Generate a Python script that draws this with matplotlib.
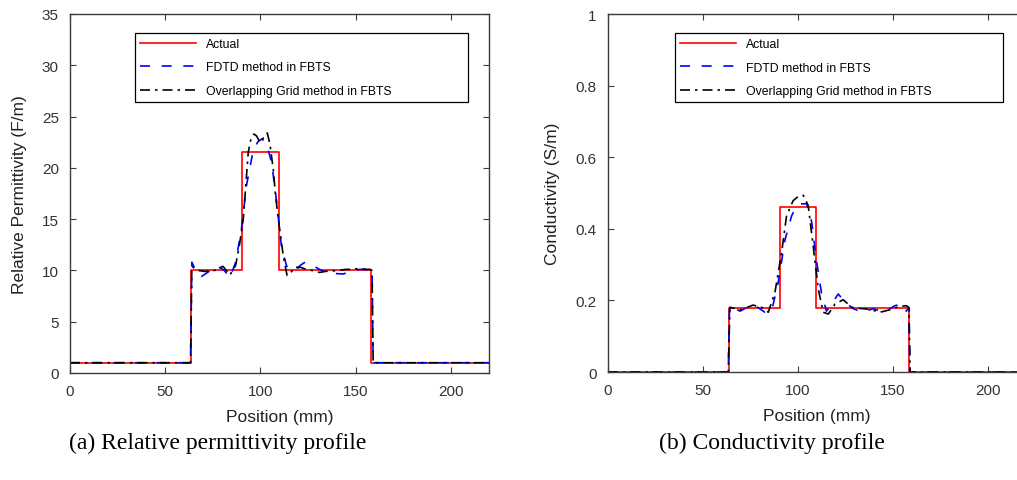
import matplotlib.pyplot as plt

plt.rcParams['font.family'] = ['Liberation Sans', 'DejaVu Sans']

# actual step profiles (position in mm)
actual_x = [0, 63.5, 63.5, 90.3, 90.3, 109.5, 109.5, 158.3, 158.3, 220]
actual_eps = [1, 1, 10, 10, 21.5, 21.5, 10, 10, 1, 1]
actual_sig = [0, 0, 0.18, 0.18, 0.46, 0.46, 0.18, 0.18, 0, 0]

# FDTD method in FBTS - permittivity
fdtd_eps_x = [0, 63.3, 64.0, 66, 69, 73, 77, 81, 84, 87, 90, 92.7, 96, 98.5, 100.6, 102.4,
              104, 105.9, 108.5, 111, 113.7, 116, 119, 121, 123.4, 127.8, 131, 134.7, 139,
              143.3, 148, 152, 155, 157.5, 158.6, 159.2, 220]
fdtd_eps = [1, 1, 10.8, 10.0, 9.4, 9.9, 10.45, 10.0, 9.3, 10.8, 14.0, 18.3, 21.5, 22.5, 22.8, 22.6,
            21.8, 20.5, 16.7, 12.4, 10.45, 10.0, 10.1, 10.5, 10.8, 10.45, 10.1, 9.8, 9.7,
            9.65, 9.9, 10.1, 10.1, 9.95, 10.0, 1, 1]

# Overlapping Grid method in FBTS - permittivity
ovl_eps_x = [0, 63.3, 64.0, 67, 71, 76, 80.3, 84, 87, 89, 91, 93.6, 95, 96.6, 98, 99.7, 101.5,
             103.6, 105, 106.7, 108, 109.4, 112, 114, 116, 118, 121, 124.2, 127, 131, 134,
             138, 141, 145, 148, 152, 155, 157.5, 158.6, 159.2, 220]
ovl_eps = [1, 1, 10.4, 10.0, 9.9, 10.0, 10.4, 9.55, 10.5, 12.5, 15.0, 21.5, 22.8, 23.3, 23.1, 22.5, 22.9,
           23.4, 22.3, 19.9, 17.2, 15.0, 11.4, 9.5, 9.8, 10.3, 10.3, 10.1, 10.0, 9.8, 9.9,
           9.95, 10.0, 10.1, 10.1, 10.2, 10.1, 10.1, 10.0, 1, 1]

# FDTD method in FBTS - conductivity
fdtd_sig_x = [0, 63.3, 64.0, 66, 69.5, 73, 76.3, 79, 82.6, 86.1, 89.6, 93.2, 96.7, 99, 101.1,
              104.6, 107.2, 109.8, 112.4, 115, 117.7, 121.2, 124.7, 129, 134.3, 139.5,
              145.6, 150.9, 154.4, 157, 158.4, 159.0, 220]
fdtd_sig = [0, 0, 0.185, 0.18, 0.17, 0.18, 0.187, 0.18, 0.167, 0.17, 0.25, 0.37, 0.437, 0.46, 0.47,
            0.47, 0.42, 0.31, 0.22, 0.17, 0.19, 0.218, 0.196, 0.177, 0.167, 0.177,
            0.167, 0.185, 0.19, 0.17, 0.18, 0, 0]

# Overlapping Grid method in FBTS - conductivity
ovl_sig_x = [0, 63.3, 64.2, 66.5, 69.5, 73, 76.3, 80.9, 84.4, 87.9, 91.4, 94, 97.5, 100, 102.8,
             105.4, 108, 110.7, 113.3, 116, 119.5, 123.8, 128.3, 132, 136.2, 140, 143.2,
             148.4, 153.7, 157.2, 158.4, 159.0, 220]
ovl_sig = [0, 0, 0.181, 0.178, 0.174, 0.18, 0.187, 0.181, 0.167, 0.223, 0.334, 0.437, 0.479, 0.49, 0.494,
           0.465, 0.353, 0.232, 0.167, 0.162, 0.19, 0.202, 0.181, 0.178, 0.176, 0.172, 0.167,
           0.174, 0.184, 0.185, 0.18, 0, 0]

legend_labels = ['Actual', 'FDTD method in FBTS', 'Overlapping Grid method in FBTS']

fig = plt.figure(figsize=(10.17, 4.81), dpi=100)
ax1 = fig.add_axes([0.0688, 0.2225, 0.412, 0.7464])
ax2 = fig.add_axes([0.5978, 0.2245, 0.411, 0.744])


def style_axes(ax):
    for sp in ax.spines.values():
        sp.set_color('#3c3c3c')
        sp.set_linewidth(1.0)
    ax.tick_params(direction='in', top=True, right=True, length=4, width=0.8,
                   colors='#3c3c3c', labelsize=11, labelcolor='#333333', pad=8)
    ax.set_xlim(0, 220)
    ax.set_xticks([0, 50, 100, 150, 200])
    ax.set_xlabel('Position (mm)', fontsize=12.5, color='#222222', labelpad=8)


def draw(ax, eps_like, fdtd_x, fdtd_y, ovl_x, ovl_y):
    ax.plot(actual_x, eps_like, color='#ff0000', lw=1.2, label=legend_labels[0])
    ax.plot(fdtd_x, fdtd_y, color='#0000ff', lw=1.2, dashes=(6, 7), label=legend_labels[1])
    ax.plot(ovl_x, ovl_y, color='black', lw=1.2, dashes=(6, 3, 1.5, 3), label=legend_labels[2])


draw(ax1, actual_eps, fdtd_eps_x, fdtd_eps, ovl_eps_x, ovl_eps)
style_axes(ax1)
ax1.set_ylim(0, 35)
ax1.set_yticks(range(0, 36, 5))
ax1.set_ylabel('Relative Permittivity (F/m)', fontsize=12.5, color='#222222', labelpad=11)
leg1 = ax1.legend(loc='upper left', bbox_to_anchor=(0.155, 0.735, 0.795, 0.212), mode='expand',
                  fontsize=8.8, handlelength=4.6, labelspacing=0.95, borderaxespad=0,
                  fancybox=False, framealpha=1, edgecolor='black')
leg1.get_frame().set_linewidth(0.9)

draw(ax2, actual_sig, fdtd_sig_x, fdtd_sig, ovl_sig_x, ovl_sig)
style_axes(ax2)
ax2.set_ylim(0, 1)
ax2.set_yticks([0, 0.2, 0.4, 0.6, 0.8, 1])
ax2.set_yticklabels(['0', '0.2', '0.4', '0.6', '0.8', '1'])
ax2.set_ylabel('Conductivity (S/m)', fontsize=12.5, color='#222222', labelpad=11)
leg2 = ax2.legend(loc='upper left', bbox_to_anchor=(0.16, 0.735, 0.785, 0.212), mode='expand',
                  fontsize=8.8, handlelength=4.6, labelspacing=0.95, borderaxespad=0,
                  fancybox=False, framealpha=1, edgecolor='black')
leg2.get_frame().set_linewidth(0.9)

fig.text(0.2143, 0.079, '(a) Relative permittivity profile', family='Liberation Serif',
         fontsize=17, ha='center', va='center')
fig.text(0.759, 0.079, '(b) Conductivity profile', family='Liberation Serif',
         fontsize=17, ha='center', va='center')

fig.savefig('out.png', dpi=100)
